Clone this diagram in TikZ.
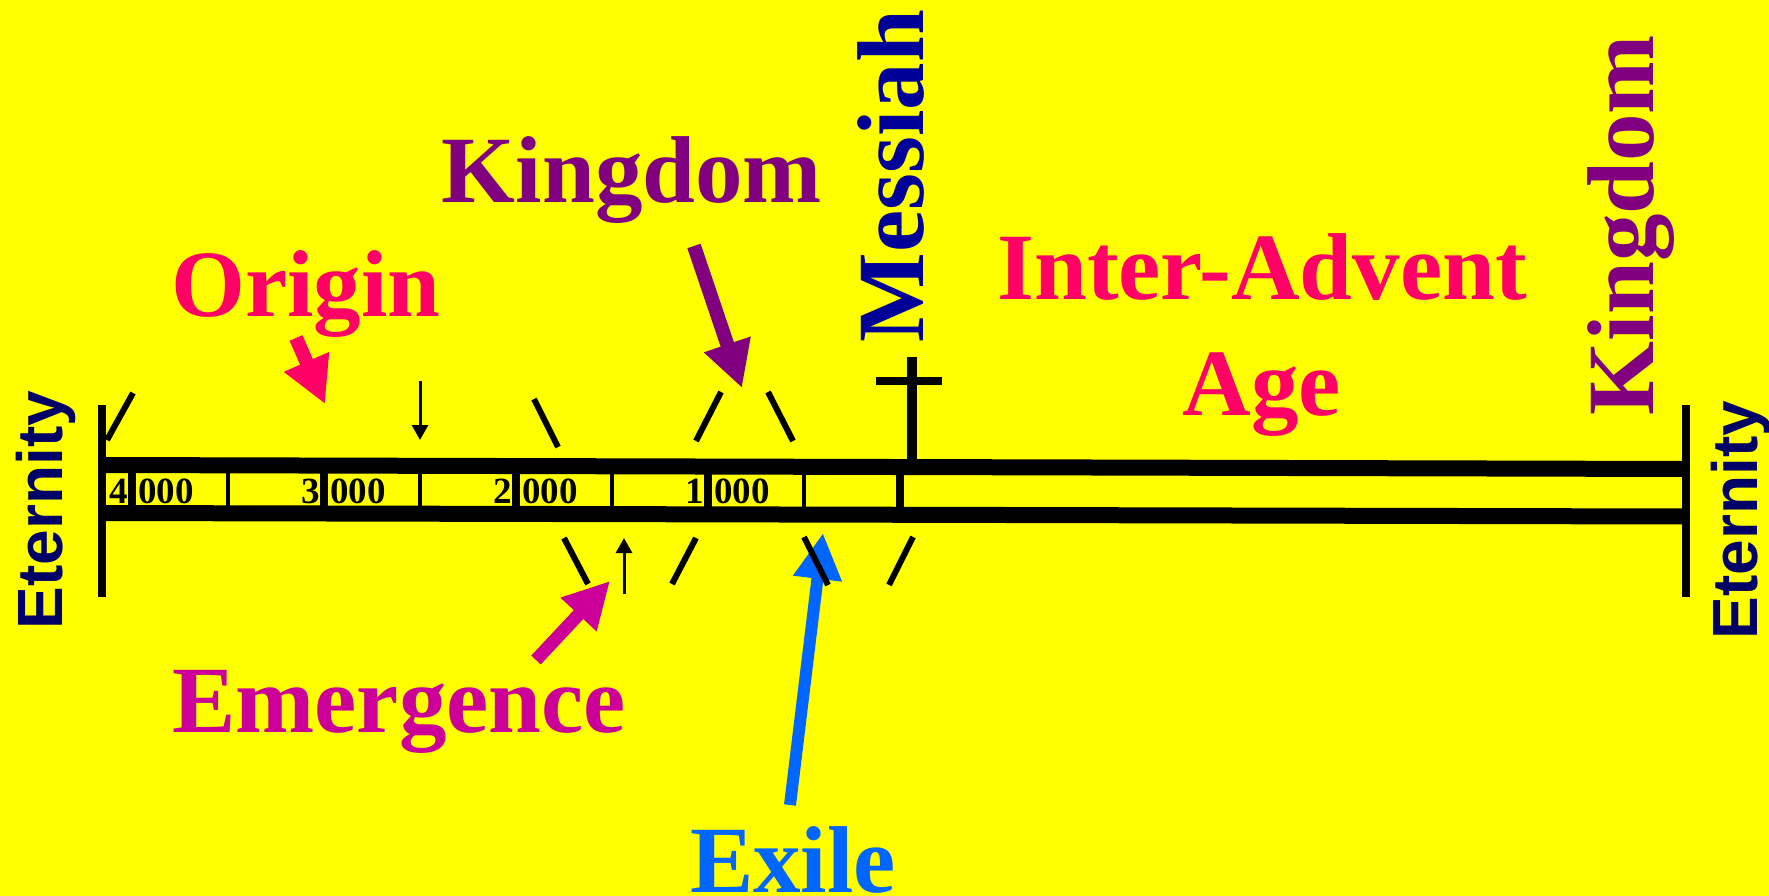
\documentclass[tikz,border=0pt]{standalone}
\usepackage{fontspec}
\setmainfont{Liberation Serif}
\setsansfont{Liberation Sans}
\usetikzlibrary{arrows.meta,positioning}

\definecolor{bgyellow}{RGB}{255,255,0}
\definecolor{originred}{RGB}{255,0,102}
\definecolor{kingpurple}{RGB}{128,0,128}
\definecolor{emermag}{RGB}{204,0,153}
\definecolor{exileblue}{RGB}{0,102,255}
\definecolor{messblue}{RGB}{0,0,153}
\definecolor{eternavy}{RGB}{0,0,102}

\begin{document}
\begin{tikzpicture}[x=1pt,y=-1pt,
    bigword/.style={font=\fontsize{95}{100}\selectfont\bfseries,inner sep=0pt,anchor=base},
    eternal/.style={font=\sffamily\fontsize{64}{70}\selectfont\bfseries,text=eternavy,inner sep=0pt,anchor=base,rotate=90},
    digit/.style={font=\fontsize{37}{40}\selectfont\bfseries,inner sep=0pt},
    bigarrow/.style={line width=14pt,-{Triangle[length=46pt,width=46pt]}},
    smallarrow/.style={line width=3pt,-{Triangle[length=15pt,width=16pt]}},
    slash/.style={line width=6pt}]
    % Background
    \useasboundingbox (0,0) rectangle (1769,896);
    \fill[bgyellow] (0,0) rectangle (1769,896);

    % Timeline bands and end bars
    \draw[line width=16pt] (102,465) -- (1686,469);
    \draw[line width=16pt] (102,513) -- (1686,516.5);
    \draw[line width=8pt] (102,405) -- (102,597);
    \draw[line width=8pt] (1686,405) -- (1686,597);

    % Millennium cells
    \foreach \x in {132,324,516,708,900}{
      \draw[line width=8pt] (\x,465) -- (\x,515);
    }
    \foreach \x in {228,420,612,804}{
      \draw[line width=4pt] (\x,465) -- (\x,515);
    }
    \foreach \x/\n in {128/4,320/3,512/2,704/1}{
      \node[digit,anchor=base east] (d\n) at (\x,503) {\n};
      \node[digit,anchor=base west] (k\n) at (\x+10,503) {000};
    }

    % Messiah cross
    \draw[line width=10pt] (912,357) -- (912,466);
    \draw[line width=8pt] (876,381) -- (942,381);

    % Labels
    \node[eternal] (eternl) at (62,510) {Eternity};
    \node[eternal] (eternr) at (1757,520) {Eternity};
    \node[bigword,text=originred] (origin) at (306,316) {Origin};
    \node[bigword,text=kingpurple] (kingdom) at (632,203) {Kingdom};
    \node[bigword,text=messblue,rotate=90] (messiah) at (923,176) {Messiah};
    \node[bigword,text=originred] (interadvent) at (1262,299) {Inter-Advent};
    \node[bigword,text=originred] (age) at (1262,415) {Age};
    \node[bigword,text=kingpurple,rotate=90] (kingdomr) at (1653,225) {Kingdom};
    \node[bigword,text=emermag] (emergence) at (399,732) {Emergence};
    \node[bigword,text=exileblue] (exile) at (793,892) {Exile};

    % Pointer arrows
    \coordinate (origin tail) at (296,338);
    \coordinate (origin tip) at (325,404);
    \coordinate (kingdom tail) at (694,246);
    \coordinate (kingdom tip) at (742,388);
    \coordinate (emergence tail) at (536,660);
    \coordinate (emergence tip) at (610,581);
    \coordinate (exile tail) at (790,805);
    \coordinate (exile tip) at (823,533);
    \draw[bigarrow,originred] (origin tail) -- (origin tip);
    \draw[bigarrow,kingpurple] (kingdom tail) -- (kingdom tip);
    \draw[bigarrow,emermag,line width=13pt] (emergence tail) -- (emergence tip);
    \draw[bigarrow,exileblue,line width=12pt] (exile tail) -- (exile tip);

    % Small black arrows
    \coordinate (down top) at (420,381);
    \coordinate (down tip) at (420,440);
    \coordinate (up bottom) at (624,594);
    \coordinate (up tip) at (624,538);
    \draw[smallarrow] (down top) -- (down tip);
    \draw[smallarrow] (up bottom) -- (up tip);

    % Slashes above and below the bands
    \foreach \a/\b/\c/\d in {107/440/133/393,534/399/558/447,721/392/696/441,768/392/793/441,
                             564/538/588/584,696/538/672/584,804/537/828/585,913/537/889/585}{
      \draw[slash] (\a,\b) -- (\c,\d);
    }
\end{tikzpicture}
\end{document}
